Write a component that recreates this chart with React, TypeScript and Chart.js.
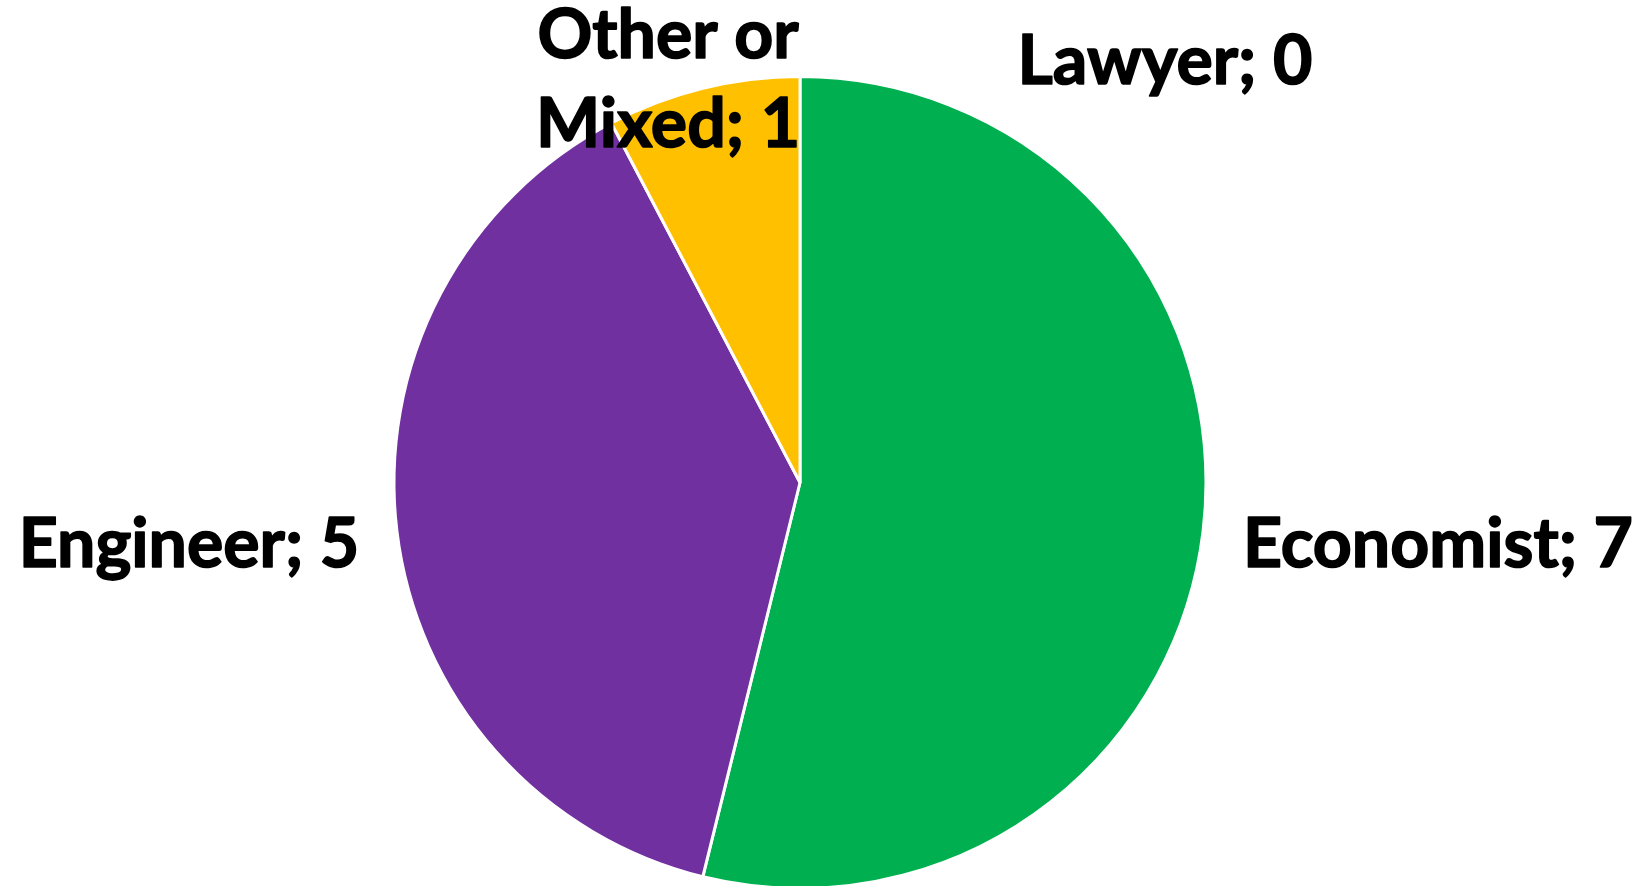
import React, { useEffect, useRef } from "react";
import { Chart, registerables } from "chart.js";

Chart.register(...registerables);

const categories = ["Lawyer", "Economist", "Engineer", "Other or Mixed"];
const values = [0, 7, 5, 1];
const colors = ["#4472C4", "#00B050", "#7030A0", "#FFC000"];
// label text lines (derived from categories and values)
const labelLines = categories.map((c, i) =>
  c === "Other or Mixed" ? ["Other or", `Mixed; ${values[i]}`] : [`${c}; ${values[i]}`]
);

// label anchor positions (center x, first baseline y) in canvas px
const labelPos = [
  { x: 1165, y: 84 },
  { x: 1438, y: 567 },
  { x: 189, y: 567 },
  { x: 668, y: 58 },
];

const labelPlugin = {
  id: "pieLabels",
  afterDraw(chart: any) {
    const ctx = chart.ctx;
    ctx.save();
    ctx.fillStyle = "#000000";
    ctx.strokeStyle = "#000000";
    ctx.lineWidth = 1.6;
    ctx.lineJoin = "round";
    ctx.font = "bold 68px Lato";
    ctx.textAlign = "center";
    ctx.textBaseline = "alphabetic";
    labelLines.forEach((lines, i) => {
      lines.forEach((t, j) => {
        ctx.fillText(t, labelPos[i].x, labelPos[i].y + j * 89);
        ctx.strokeText(t, labelPos[i].x, labelPos[i].y + j * 89);
      });
    });
    ctx.restore();
  },
};

export default function App() {
  const ref = useRef<HTMLCanvasElement>(null);
  useEffect(() => {
    document.body.style.margin = "0";
    document.body.style.overflow = "hidden";
    const chart = new Chart(ref.current!, {
      type: "pie",
      data: {
        labels: categories,
        datasets: [
          {
            data: values,
            backgroundColor: colors,
            borderColor: "#ffffff",
            borderWidth: 3,
          },
        ],
      },
      options: {
        animation: false,
        responsive: false,
        maintainAspectRatio: false,
        layout: { padding: { top: 75, bottom: 0, left: 0, right: 47 } },
        plugins: {
          legend: { display: false },
          tooltip: { enabled: false },
        },
      },
      plugins: [labelPlugin],
    });
    return () => chart.destroy();
  }, []);
  return (
    <div style={{ width: 1647, height: 886, background: "#fff", overflow: "hidden" }}>
      <canvas ref={ref} width={1647} height={890} style={{ display: "block" }} />
    </div>
  );
}
